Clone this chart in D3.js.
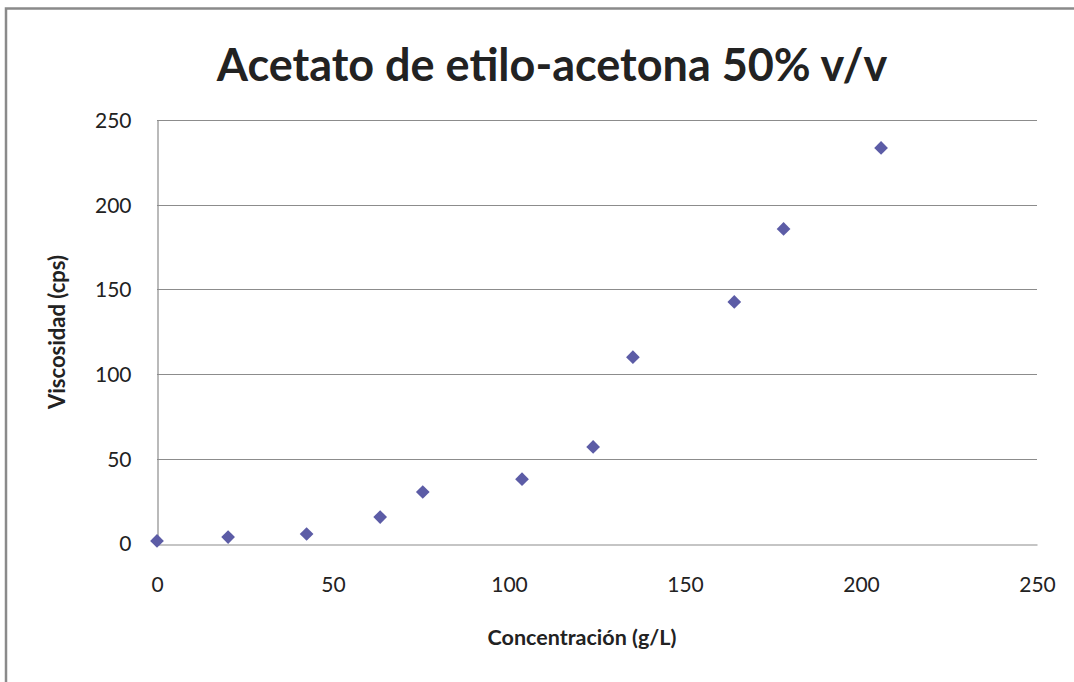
<!DOCTYPE html>
<html>
<head>
<meta charset="utf-8">
<script src="https://cdn.jsdelivr.net/npm/d3@7"></script>
<style>
  body { margin: 0; background: #fff; }
  text { font-family: Lato, "Open Sans", sans-serif; fill: #222; }
</style>
</head>
<body>
<div id="chart"></div>
<script>
// data
const concentracion = [0, 20.2, 42.5, 63.4, 75.5, 103.7, 123.9, 135.2, 164, 178, 205.7];
const viscosidad    = [1.5, 3.8, 5.6, 15.6, 30.4, 38, 57, 110, 142.6, 185.7, 233.5];
const xTicks = [0, 50, 100, 150, 200, 250];
const yTicks = [0, 50, 100, 150, 200, 250];

const width = 1074, height = 682;
const plotLeft = 157, plotRight = 1037, plotTop = 120, plotBottom = 543.5;

const svg = d3.select("#chart").append("svg")
   .attr("width", width)
   .attr("height", height);

// outer chart frame (only left and top edges show in the picture)
svg.append("path")
   .attr("d", "M6,682 V8.5 H1074")
   .attr("fill", "none")
   .attr("stroke", "#8a8a8a")
   .attr("stroke-width", 2.5);

const x = d3.scaleLinear().domain([0, 250]).range([plotLeft, plotRight]);
const y = d3.scaleLinear().domain([0, 250]).range([plotBottom, plotTop]);

// horizontal gridlines
svg.append("g")
   .selectAll("line")
   .data(yTicks.filter(d => d > 0))
   .join("line")
   .attr("x1", plotLeft).attr("x2", plotRight)
   .attr("y1", d => Math.round(y(d)) + 0.5)
   .attr("y2", d => Math.round(y(d)) + 0.5)
   .attr("stroke", "#8c8c8c")
   .attr("stroke-width", 1.2);

// axes
const xAxis = svg.append("g")
   .attr("transform", `translate(0,${Math.round(plotBottom) + 0.5})`)
   .call(d3.axisBottom(x).tickValues(xTicks).tickSize(0).tickPadding(33));
const yAxis = svg.append("g")
   .attr("transform", `translate(${plotLeft + 0.5},0)`)
   .call(d3.axisLeft(y).tickValues(yTicks).tickSize(0).tickPadding(26));

[xAxis, yAxis].forEach(g => {
   g.select(".domain").attr("stroke", "#8c8c8c").attr("stroke-width", 1.2);
   g.selectAll("text")
      .style("font-family", "Lato, sans-serif")
      .style("font-size", "21px")
      .attr("fill", "#333");
});
yAxis.selectAll("text").attr("dy", "0.35em");

// points (diamond markers)
svg.append("g")
   .selectAll("path")
   .data(concentracion.map((c, i) => [c, viscosidad[i]]))
   .join("path")
   .attr("d", d3.symbol().type(d3.symbolDiamond2).size(120))
   .attr("transform", d => `translate(${x(d[0])},${y(d[1])})`)
   .attr("fill", "#5c5ca6");

// titles
svg.append("text")
   .attr("x", 552).attr("y", 81)
   .attr("text-anchor", "middle")
   .style("font-size", "45px")
   .style("font-weight", "bold")
   .attr("fill", "#000")
   .text("Acetato de etilo-acetona 50% v/v");

svg.append("text")
   .attr("x", 582).attr("y", 645)
   .attr("text-anchor", "middle")
   .style("font-size", "21.5px")
   .style("font-weight", "bold")
   .attr("fill", "#111")
   .text("Concentración (g/L)");

svg.append("text")
   .attr("transform", "translate(65,332) rotate(-90)")
   .attr("text-anchor", "middle")
   .style("font-size", "22px")
   .style("font-weight", "bold")
   .attr("fill", "#111")
   .text("Viscosidad (cps)");
</script>
</body>
</html>
